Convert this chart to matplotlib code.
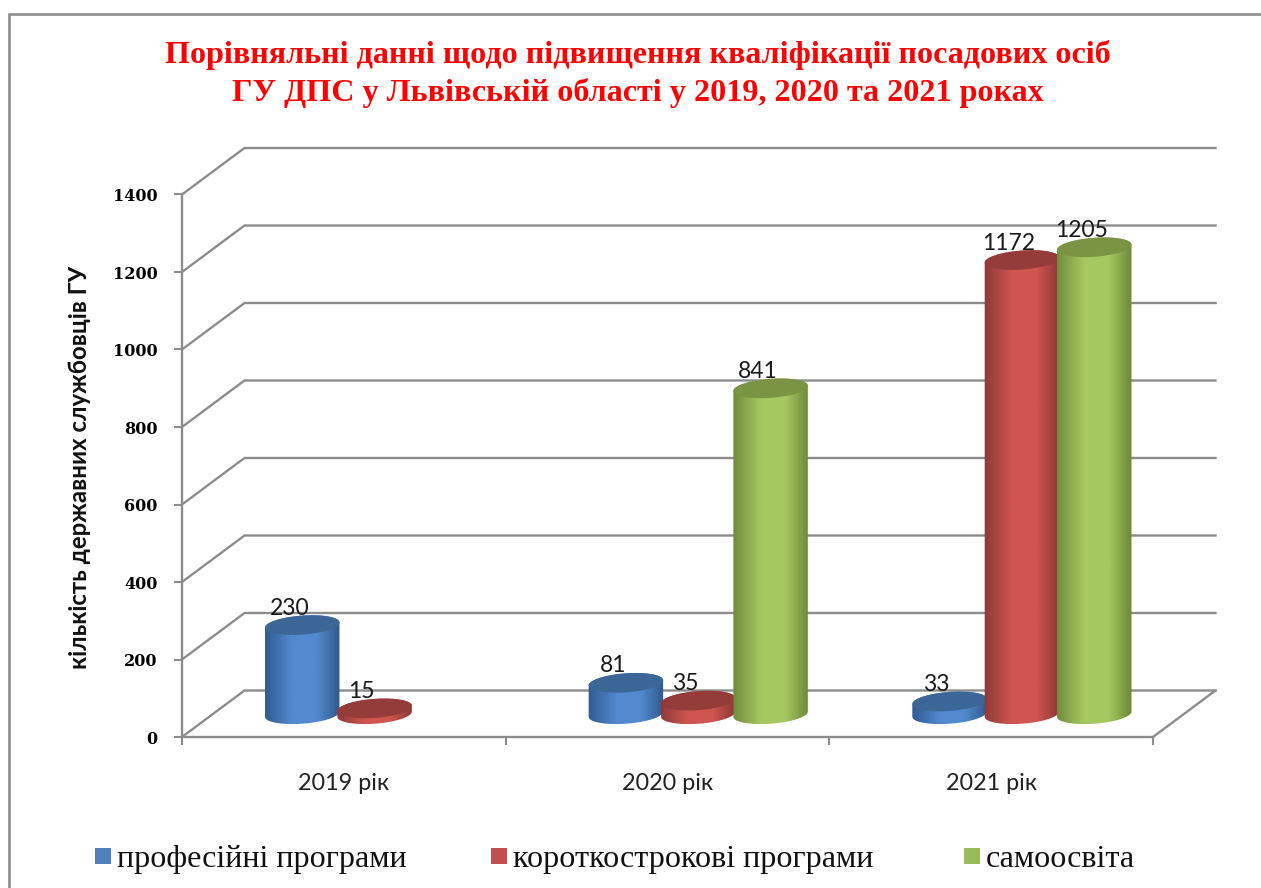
import matplotlib
matplotlib.use('Agg')
import matplotlib.pyplot as plt
import numpy as np
from matplotlib.colors import LinearSegmentedColormap
from matplotlib.patches import Polygon, Rectangle

categories = ['2019 рік', '2020 рік', '2021 рік']
series_names = ['професійні програми', 'короткострокові програми', 'самоосвіта']
profesiini = [230, 81, 33]
korotkostrokovi = [15, 35, 1172]
samoosvita = [None, 841, 1205]
y_ticks = [0, 200, 400, 600, 800, 1000, 1200, 1400]

title_lines = ['Порівняльні данні щодо підвищення кваліфікації посадових осіб',
               'ГУ ДПС у Львівській області у 2019, 2020 та 2021 роках']
y_title = 'кількість державних службовців ГУ'

W, H = 1261, 888
GRAY = '#8c8c8c'
SANS = ['Lato', 'Open Sans', 'DejaVu Sans']
SERIF = ['Liberation Serif', 'DejaVu Serif']

# колір: край, центр, правий край, кришка
body_colors = [('#2f5b90', '#5389cf', '#2f5a8c', '#3c6695'),
               ('#8f3a38', '#cf5550', '#8a3836', '#933c39'),
               ('#718c3e', '#a6c860', '#6e883b', '#7b9443')]
legend_colors = ['#4f81bd', '#c0504d', '#9bbb59']

fig = plt.figure(figsize=(W / 100, H / 100), dpi=100, facecolor='white')

# основна вісь: 182..1153 px по x, 737..194.5 px по y
ax = fig.add_axes([182 / W, 1 - 737 / H, (1153 - 182) / W, (737 - 194.5) / H])
ax.set_xlim(0, 3)
ax.set_ylim(0, 1400)
ax.patch.set_alpha(0)

# глибина "3D" підлоги в одиницях даних
px_x = 3 / (1153 - 182)
px_y = 1400 / (737 - 194.5)
depth_x = 62.5 * px_x
depth_y = 46.5 * px_y


# стіна та підлога
for v in y_ticks:
    ax.plot([0, depth_x, 3 + depth_x], [v, v + depth_y, v + depth_y], color=GRAY, lw=1.7,
            clip_on=False, zorder=1, solid_joinstyle='miter')
ax.plot([3, 3 + depth_x], [0, depth_y], color=GRAY, lw=1.7, clip_on=False, zorder=1)

for s in ['top', 'right']:
    ax.spines[s].set_visible(False)
for s in ['left', 'bottom']:
    ax.spines[s].set_color(GRAY)
    ax.spines[s].set_linewidth(1.7)
    ax.spines[s].set_zorder(2)

ax.set_yticks(y_ticks)
ax.set_yticklabels([str(v) for v in y_ticks], family=['DejaVu Serif'], fontweight='bold', fontsize=11.5)
ax.tick_params(axis='y', length=6, width=1.5, color=GRAY, pad=11.5)
ax.set_xticks([0, 1, 2, 3])
ax.set_xticklabels([])
ax.tick_params(axis='x', which='major', length=6, width=1.5, color=GRAY)
ax.set_xticks([0.5, 1.5, 2.5], minor=True)
ax.set_xticklabels(categories, minor=True, family=SANS, fontsize=16.8, color='#222222')
ax.tick_params(axis='x', which='minor', length=0, pad=26)


def ellipse(cx, cy, t):
    half_w = 0.115
    half_h = 9.5 * px_y
    skew = 2.6 * px_y
    return cx + half_w * np.cos(t), cy + half_h * np.sin(t) + skew * np.cos(t)


def cylinder(cx, value, colors, z):
    base = 0.49 * depth_y
    left, mid, right, cap = colors
    x0, y0 = ellipse(cx, base, np.linspace(np.pi, 2 * np.pi, 60))
    x1, y1 = ellipse(cx, base + value, np.linspace(0, np.pi, 60))
    body = Polygon(np.column_stack([np.r_[x0, x1], np.r_[y0, y1]]), closed=True, fc='none', ec='none',
                   transform=ax.transData)
    ax.add_patch(body)
    cmap = LinearSegmentedColormap.from_list('c', [left, mid, mid, right], N=128)
    grad = np.interp(np.linspace(0, 1, 128), [0, 0.5, 1], [0, 0.45, 1]).reshape(1, -1)
    im = ax.imshow(grad, cmap=cmap, aspect='auto', extent=[cx - 0.117, cx + 0.117, base - 40, base + value + 40],
                   zorder=z, interpolation='bilinear')
    im.set_clip_path(body)
    # кришка
    xc, yc = ellipse(cx, base + value, np.linspace(0, 2 * np.pi, 120))
    ax.fill(xc, yc, color=cap, lw=0, zorder=z + 0.1, clip_on=False)
    ax.annotate(str(value), (cx, base + value), xytext=(-13, 17), textcoords='offset pixels',
                ha='center', va='center', family=SANS, fontsize=16.5, color='#1a1a1a', zorder=20)


all_series = [profesiini, korotkostrokovi, samoosvita]
step = 0.2235
z = 5
for i in range(len(categories)):
    for j, values in enumerate(all_series):
        if values[i] is None:
            continue
        cx = i + 0.5 + (j - 1) * step + 0.46 * depth_x + 2 * px_x
        cylinder(cx, values[i], body_colors[j], z)
        z += 1
ax.set_xlim(0, 3)
ax.set_ylim(0, 1400)

# текст та рамка в пікселях
over = fig.add_axes([0, 0, 1, 1], zorder=-1)
over.set_xlim(0, W)
over.set_ylim(H, 0)
over.axis('off')
over.plot([8.5, 8.5, W + 5], [H + 5, 14, 14], color=GRAY, lw=1.9, solid_joinstyle='miter')

over.text(638, 54.5, title_lines[0], color='#ff0000', family=SERIF, fontweight='bold', fontsize=23.1,
          ha='center', va='center')
over.text(638, 92.5, title_lines[1], color='#ff0000', family=SERIF, fontweight='bold', fontsize=23.1,
          ha='center', va='center')
over.text(80, 467, y_title, rotation=90, family=SANS, fontweight='bold', fontsize=17.3,
          ha='center', va='center', color='#111111')

legend_x = [95, 491, 964]
for name, lx, colors in zip(series_names, legend_x, legend_colors):
    over.add_patch(Rectangle((lx, 848), 16, 16, fc=colors, ec='none'))
    over.text(lx + 22, 859.5, name, family=SERIF, fontsize=23.1, ha='left', va='center', color='#111111')

fig.savefig('out.png', dpi=100)
